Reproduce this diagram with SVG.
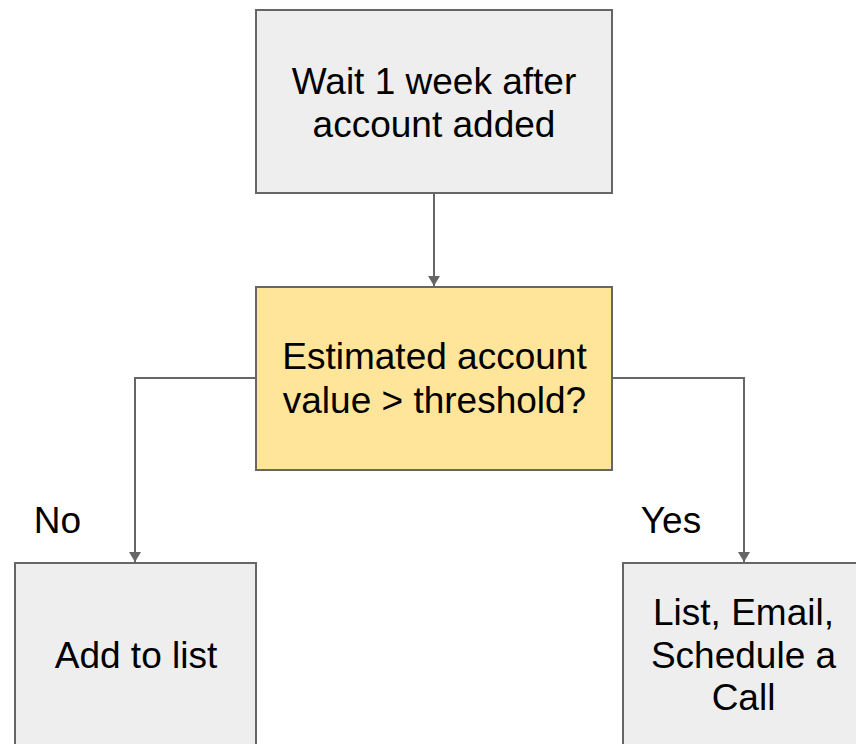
<svg xmlns="http://www.w3.org/2000/svg" width="856" height="744" viewBox="0 0 856 744">
<style>
.box{fill:#eeeeee;stroke:#666666;stroke-width:2}
.dec{fill:#ffe599;stroke:#666666;stroke-width:2}
.lbl{font-family:"Liberation Sans",Arial,sans-serif;font-size:37px;fill:#000000;text-anchor:middle}
.edge{fill:none;stroke:#666666;stroke-width:2}
</style>
<defs>
<marker id="arr" viewBox="0 0 10 12" refX="10" refY="6" markerWidth="10" markerHeight="12" markerUnits="userSpaceOnUse" orient="auto">
<path d="M0,0 L10,6 L0,12 Z" fill="#666666" transform="rotate(0)"/>
</marker>
</defs>
<rect width="856" height="744" fill="#ffffff"/>
<g id="connectors">
<path class="edge" d="M434,193 L434,286" marker-end="url(#arr)"/>
<path class="edge" d="M256,378 L135,378 L135,562" marker-end="url(#arr)"/>
<path class="edge" d="M612,378 L744,378 L744,562" marker-end="url(#arr)"/>
<text class="lbl" x="57.5" y="533">No</text>
<text class="lbl" x="671" y="533">Yes</text>
</g>
<g id="wait">
<rect class="box" x="256" y="10" width="356" height="183"/>
<text class="lbl" x="434" y="94">Wait 1 week after</text>
<text class="lbl" x="434" y="137">account added</text>
</g>
<g id="decision">
<rect class="dec" x="256" y="287" width="356" height="183"/>
<text class="lbl" x="434.5" y="369">Estimated account</text>
<text class="lbl" x="434.5" y="413">value &gt; threshold?</text>
</g>
<g id="addlist">
<rect class="box" x="15" y="563" width="241" height="200"/>
<text class="lbl" x="136" y="668">Add to list</text>
</g>
<g id="call">
<rect class="box" x="623" y="563" width="241" height="200"/>
<text class="lbl" x="743.5" y="625">List, Email,</text>
<text class="lbl" x="743.5" y="668">Schedule a</text>
<text class="lbl" x="743.5" y="710">Call</text>
</g>
</svg>
